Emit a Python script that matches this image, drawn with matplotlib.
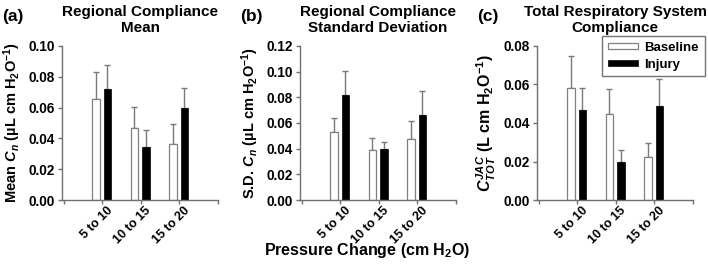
import matplotlib
matplotlib.use("Agg")
import matplotlib.pyplot as plt
import numpy as np

plt.rcParams['font.family'] = ['Liberation Sans', 'DejaVu Sans']
plt.rcParams['font.weight'] = 'bold'
plt.rcParams['mathtext.fontset'] = 'custom'
plt.rcParams['mathtext.rm'] = 'Liberation Sans:bold'
plt.rcParams['mathtext.it'] = 'Liberation Sans:italic:bold'
plt.rcParams['mathtext.bf'] = 'Liberation Sans:bold'

categories = ["5 to 10", "10 to 15", "15 to 20"]

mean_baseline = [0.0656, 0.0468, 0.0366]
mean_baseline_err = [0.0173, 0.0138, 0.0130]
mean_injury = [0.0721, 0.0344, 0.0595]
mean_injury_err = [0.0158, 0.0108, 0.0130]

sd_baseline = [0.0530, 0.0393, 0.0476]
sd_baseline_err = [0.0106, 0.0088, 0.0139]
sd_injury = [0.0822, 0.0398, 0.0662]
sd_injury_err = [0.0181, 0.0057, 0.0186]

tot_baseline = [0.0584, 0.0448, 0.0221]
tot_baseline_err = [0.0163, 0.0130, 0.0077]
tot_injury = [0.0466, 0.0198, 0.0486]
tot_injury_err = [0.0115, 0.0064, 0.0140]

W, H = 708, 277
fig = plt.figure(figsize=(W / 100, H / 100), dpi=100)

panels = [
    dict(left=62, base=mean_baseline, berr=mean_baseline_err, inj=mean_injury, ierr=mean_injury_err,
         ymax=0.10, yticks=np.arange(0, 0.101, 0.02), label='(a)',
         title='Regional Compliance\nMean', ylsize=10.5,
         ylabel='Mean $C_n$ (µL cm H$_2$O$^{-1}$)'),
    dict(left=300, base=sd_baseline, berr=sd_baseline_err, inj=sd_injury, ierr=sd_injury_err,
         ymax=0.12, yticks=np.arange(0, 0.121, 0.02), label='(b)',
         title='Regional Compliance\nStandard Deviation', ylsize=10.5,
         ylabel='S.D. $C_n$ (µL cm H$_2$O$^{-1}$)'),
    dict(left=537, base=tot_baseline, berr=tot_baseline_err, inj=tot_injury, ierr=tot_injury_err,
         ymax=0.08, yticks=np.arange(0, 0.081, 0.02), label='(c)',
         title='Total Respiratory System\nCompliance', ylsize=11.5,
         ylabel='$C^{JAC}_{TOT}$ (L cm H$_2$O$^{-1}$)'),
]

axis_col = '#707070'
err_col = '#7a7a7a'
x = np.arange(1, len(categories) + 1)
bw = 0.2

for p in panels:
    ax = fig.add_axes([p['left'] / W, (H - 200) / H, 156 / W, 154 / H])
    ax.bar(x - 0.17, p['base'], width=bw, color='white', edgecolor='#808080', linewidth=0.9,
           label='Baseline', zorder=2)
    ax.errorbar(x - 0.17, p['base'], yerr=[np.zeros(3), p['berr']], fmt='none', ecolor=err_col,
                elinewidth=1.0, capsize=2, capthick=1.0, zorder=1)
    ax.bar(x + 0.13, p['inj'], width=bw, color='black', edgecolor='black', linewidth=0.5,
           label='Injury', zorder=2)
    ax.errorbar(x + 0.13, p['inj'], yerr=[np.zeros(3), p['ierr']], fmt='none', ecolor=err_col,
                elinewidth=1.0, capsize=2, capthick=1.0, zorder=1)
    ax.set_xlim(-0.05, 4)
    ax.set_ylim(0, p['ymax'])
    ax.set_yticks(p['yticks'])
    ax.set_yticklabels([f'{v:.2f}' for v in p['yticks']], fontsize=9.8, fontweight='bold')
    ax.set_xticks([0, 1, 2, 3, 4])
    ax.set_xticklabels([])
    for xi, c in zip(x, categories):
        ax.annotate(c, xy=(xi, 0), xycoords=('data', 'axes fraction'), xytext=(3, -3.5),
                    textcoords='offset points', rotation=45, rotation_mode='anchor',
                    ha='right', va='top', fontsize=9, fontweight='bold')
    for s in ['top', 'right']:
        ax.spines[s].set_visible(False)
    for s in ['left', 'bottom']:
        ax.spines[s].set_color(axis_col)
        ax.spines[s].set_linewidth(1.0)
    ax.tick_params(axis='both', direction='out', length=3, width=1.0, color=axis_col, pad=2)
    ax.set_ylabel(p['ylabel'], fontsize=p['ylsize'], fontweight='bold', labelpad=4)
    ax.set_title(p['title'], fontsize=11, fontweight='bold', pad=10, linespacing=1.15)
    fig.text((p['left'] - 60) / W, 1 - 16 / H, p['label'], fontsize=12.5, fontweight='bold',
             ha='left', va='center')
    if p['label'] == '(c)':
        leg = ax.legend(loc='upper right', bbox_to_anchor=(705 / W, 1 - 36 / H),
                        bbox_transform=fig.transFigure, fontsize=9.5, frameon=True,
                        fancybox=False, edgecolor='#505050', handlelength=2.3, handleheight=0.35,
                        borderpad=0.45, labelspacing=0.35, handletextpad=0.5, borderaxespad=0)
        leg.get_frame().set_linewidth(1.0)
        for t in leg.get_texts():
            t.set_fontweight('bold')

fig.text(367 / W, 1 - 251 / H, 'Pressure Change (cm H$_2$O)', fontsize=11.5, fontweight='bold',
         ha='center', va='center')

fig.savefig('out.png', dpi=100)
